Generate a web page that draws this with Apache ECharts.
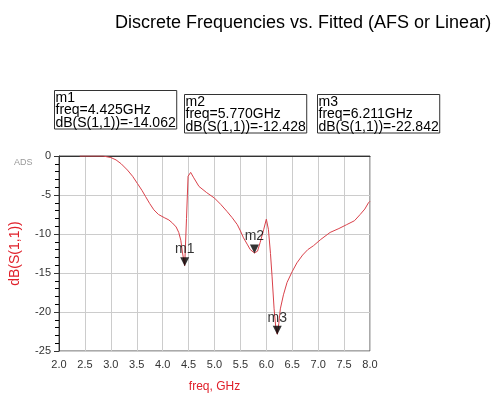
<!DOCTYPE html>
<html>
<head>
<meta charset="utf-8">
<script src="https://cdn.jsdelivr.net/npm/echarts@6/dist/echarts.min.js"></script>
<style>
  html, body { margin: 0; padding: 0; background: #fff; }
  #chart { width: 495px; height: 394px; }
</style>
</head>
<body>
<div id="chart"></div>
<script>
// frequency (GHz) and dB(S(1,1))
const freq = [2.4, 2.6, 2.85, 3.0, 3.1, 3.2, 3.32, 3.42, 3.51, 3.6, 3.67, 3.75, 3.83, 3.92, 4.03, 4.12, 4.19, 4.26, 4.31, 4.35, 4.38, 4.425,
  4.46, 4.49, 4.54, 4.6, 4.7, 4.85, 5.0, 5.12, 5.24, 5.34, 5.44, 5.5, 5.56, 5.63, 5.69, 5.77, 5.83, 5.88, 5.95, 6.0, 6.04, 6.08, 6.11,
  6.15, 6.18, 6.211, 6.24, 6.27, 6.33, 6.4, 6.5, 6.59, 6.7, 6.8, 6.91, 7.05, 7.23, 7.4, 7.55, 7.7, 7.81, 7.9, 7.97, 8.0];
const dbS11 = [0, 0, 0, -0.2, -0.5, -1.0, -1.8, -2.6, -3.5, -4.4, -5.2, -6.1, -6.9, -7.5, -7.9, -8.2, -8.6, -9.1, -9.8, -10.8, -12.3, -14.06,
  -8.0, -2.6, -2.1, -2.8, -3.9, -4.7, -5.4, -6.2, -7.1, -7.9, -8.8, -9.6, -10.5, -11.3, -12.0, -12.43, -12.2, -11.1, -9.4, -8.1, -9.4, -12.5, -15.4,
  -19.6, -21.8, -22.84, -21.5, -19.6, -17.8, -16.2, -14.8, -13.7, -12.7, -12.0, -11.5, -10.7, -9.8, -9.3, -8.8, -8.3, -7.5, -6.8, -6.0, -5.8];

// markers
const markerNames = ['m1', 'm2', 'm3'];
const markerFreq = [4.425, 5.770, 6.211];
const markerDb = [-14.062, -12.428, -22.842];

const titleText = 'Discrete Frequencies vs. Fitted (AFS or Linear)';
const xTicks = [2.0, 2.5, 3.0, 3.5, 4.0, 4.5, 5.0, 5.5, 6.0, 6.5, 7.0, 7.5, 8.0];

const boxPos = [[54, 90], [184, 94], [317, 94]];

const chart = echarts.init(document.getElementById('chart'));

const font = 'Arial, "Liberation Sans", sans-serif';

const boxes = markerNames.map((n, i) => ({
  type: 'text',
  left: boxPos[i][0],
  top: boxPos[i][1],
  style: {
    text: n + '\nfreq=' + markerFreq[i].toFixed(3) + 'GHz\ndB(S(1,1))=' + markerDb[i].toFixed(3),
    font: '14px ' + font,
    lineHeight: 12.5,
    fill: '#000',
    borderColor: '#333',
    borderWidth: 1,
    padding: [1, 1, 0, 1]
  }
}));

chart.setOption({
  animation: false,
  textStyle: { fontFamily: font },
  title: {
    text: titleText,
    left: 110,
    top: 9,
    textStyle: { fontSize: 18, fontWeight: 'normal', color: '#000' }
  },
  grid: {
    left: 58, right: 125, top: 156, bottom: 42,
    show: true, borderColor: '#555', borderWidth: 1
  },
  graphic: boxes.concat([{
    type: 'text', left: 14, top: 158,
    style: { text: 'ADS', font: '9px ' + font, fill: '#999' }
  }]),
  xAxis: {
    type: 'value',
    min: 2, max: 8, interval: 0.5,
    name: 'freq, GHz',
    nameLocation: 'middle',
    nameGap: 30,
    nameTextStyle: { color: '#e0202a', fontSize: 12 },
    axisLine: { lineStyle: { color: '#333' } },
    axisTick: { show: false },
    axisLabel: {
      color: '#333', fontSize: 11, margin: 8,
      formatter: v => xTicks.indexOf(v) >= 0 ? v.toFixed(1) : ''
    },
    splitLine: { show: true, lineStyle: { color: '#ccc' } }
  },
  yAxis: {
    type: 'value',
    min: -25, max: 0, interval: 5,
    name: 'dB(S(1,1))',
    nameLocation: 'middle',
    nameGap: 37,
    nameTextStyle: { color: '#e0202a', fontSize: 14 },
    axisLine: { show: true, lineStyle: { color: '#333' } },
    axisTick: { show: true, length: 5, lineStyle: { color: '#333' } },
    minorTick: { show: true, splitNumber: 5, length: 4, lineStyle: { color: '#000', width: 1 } },
    axisLabel: { color: '#333', fontSize: 11, margin: 8 },
    splitLine: { show: true, lineStyle: { color: '#ccc' } }
  },
  series: [
    {
      type: 'line',
      data: freq.map((f, i) => [f, dbS11[i]]),
      showSymbol: false,
      lineStyle: { color: '#d9414a', width: 1 },
      z: 2
    },
    {
      type: 'scatter',
      data: markerNames.map((n, i) => ({ name: n, value: [markerFreq[i], markerDb[i]] })),
      symbol: 'triangle',
      symbolRotate: 180,
      symbolSize: [9, 9],
      symbolOffset: [0, -4],
      itemStyle: { color: '#000' },
      label: {
        show: true, position: 'top', distance: 1,
        formatter: p => p.name,
        color: '#000', fontSize: 14
      },
      z: 3
    }
  ]
});
</script>
</body>
</html>
